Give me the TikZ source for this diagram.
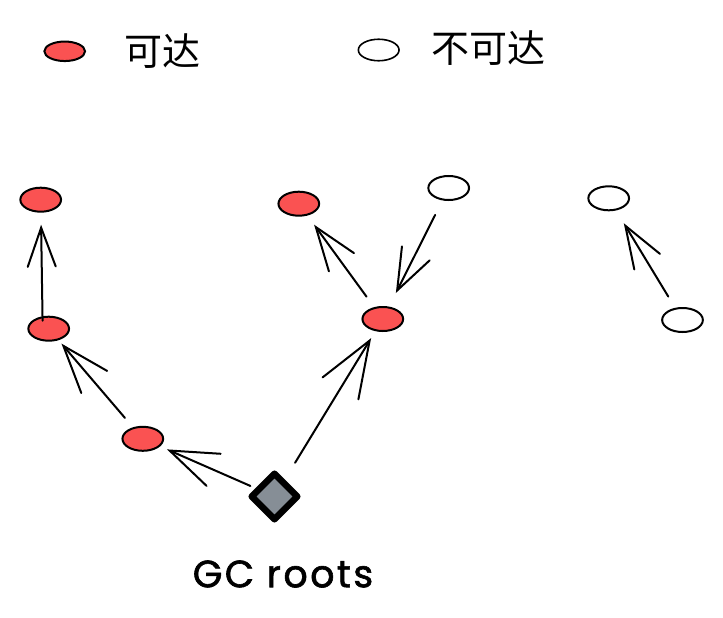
\documentclass[tikz,border=0pt]{standalone}
\usepackage{fontspec}
\newfontfamily\cjk{Noto Sans CJK SC}
\newfontfamily\gcfont[FakeBold=1.6, LetterSpace=6.5]{Poppins}
\usetikzlibrary{arrows.meta,shapes.geometric}
\definecolor{reach}{HTML}{FA5252}
\definecolor{rootgray}{HTML}{868E96}
\tikzset{
  obj/.style={ellipse, draw=black, line width=2pt, inner sep=0pt, outer sep=0pt,
    minimum width=40.7pt, minimum height=24pt},
  live/.style={obj, fill=reach},
  dead/.style={obj, fill=white},
  gcroot/.style={diamond, draw=black, line width=6.5pt, line join=round, fill=rootgray,
    inner sep=0pt, outer sep=0pt, minimum width=45.6pt, minimum height=45.6pt, aspect=1},
  ref/.style n args={4}{line width=2pt, line cap=round, line join=round,
    -{Straight Barb[length=#3pt, width=#4pt, line cap=round]},
    shorten <=#1pt, shorten >=#2pt},
  legtext/.style={font=\cjk\fontsize{38}{40}\selectfont, inner sep=0pt}
}
\begin{document}
\begin{tikzpicture}[x=1pt, y=-1pt]
\useasboundingbox (0,0) rectangle (723,618);
% legend
\node[live, minimum height=19.5pt] (legR) at (64.7,51.3) {};
\node[legtext] (legRt) at (162.5,51) {可达};
\node[dead, line width=1.6pt, minimum height=21.5pt] (legW) at (378.7,50) {};
\node[legtext] (legWt) at (488,48) {不可达};
% objects
\node[live] (tl) at (40.7,199.7) {};
\node[live] (ml) at (48.7,328.7) {};
\node[live] (bot) at (142.8,438.8) {};
\node[live] (tm) at (298.8,203.7) {};
\node[live] (rm) at (382.8,319) {};
\node[dead] (tw) at (448.7,188) {};
\node[dead] (trw) at (608.7,198.3) {};
\node[dead] (rw) at (682.5,320) {};
\node[gcroot] (root) at (274.5,496.5) {};
\node[font=\gcfont\fontsize{38}{40}\selectfont, inner sep=0pt] (rootlbl) at (283,574) {GC roots};
% references
\draw[ref={8}{13}{39}{28}] ([xshift=-6pt]ml.center) -- (tl);
\draw[ref={13.4}{5.5}{47.5}{34}] (bot) -- (ml);
\draw[ref={14}{12.3}{43.5}{31}] (rm) -- (tm);
\draw[ref={17.2}{16.2}{41.5}{31}] (tw) -- (rm);
\draw[ref={22.9}{9.2}{56}{42}] (root) -- (rm);
\draw[ref={9}{8.5}{48}{35}] (root) -- (bot);
\draw[ref={14.2}{15.9}{42}{30}] (rw) -- (trw);
\end{tikzpicture}
\end{document}
